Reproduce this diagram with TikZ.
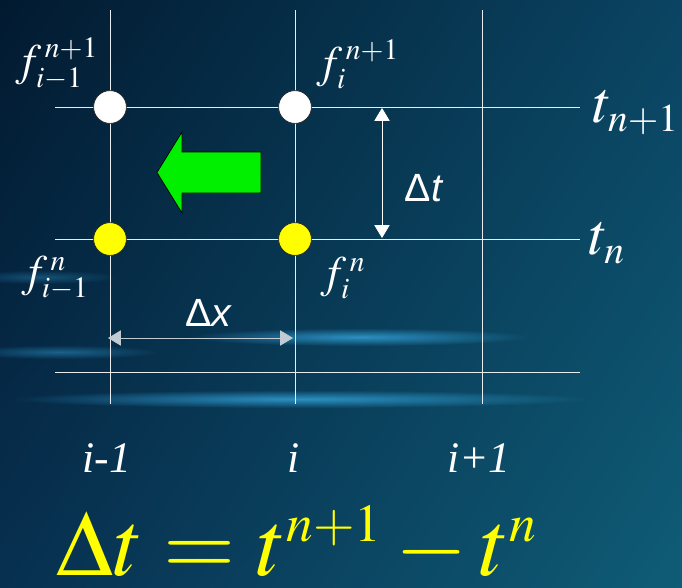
\documentclass[tikz,border=0pt]{standalone}
\usepackage{mathptmx}
\usepackage{fontspec}
\setmainfont{Liberation Serif}
\setsansfont{Liberation Sans}
\usepackage{tikz}
\usetikzlibrary{arrows.meta,positioning,shadings,fadings}
\DeclareMathSizes{66}{66}{38}{30}
\DeclareMathSizes{32}{32}{21}{16}
\DeclareMathSizes{42}{42}{28}{21}
\definecolor{BgNightA}{HTML}{021A30}
\definecolor{BgNightB}{HTML}{0A4462}
\definecolor{BgNightC}{HTML}{073050}
\definecolor{BgNightD}{HTML}{0F5C76}
\definecolor{BgGlow}{HTML}{3AB4F0}
\definecolor{MeshLine}{HTML}{E8ECEF}
\definecolor{StepGreen}{HTML}{00F000}
\definecolor{OldGold}{HTML}{FFFF00}
\tikzfading[name=glowfade, inner color=transparent!0, outer color=transparent!100]

\begin{document}
\begin{tikzpicture}[x=0.025cm,y=-0.025cm]
    \tikzset{
      mesh/.style={draw=MeshLine, line width=.6pt},
      streak/.style={fill=BgGlow, path fading=glowfade, opacity=.7},
      point/.style={circle, minimum size=8.2mm, inner sep=0pt, draw=black!85, line width=.5pt},
      newval/.style={point, fill=white},
      oldval/.style={point, fill=OldGold},
      flabel/.style={text=white, inner sep=0pt, font=\fontsize{32}{36}\selectfont},
      tlabel/.style={text=white, inner sep=0pt, font=\fontsize{42}{46}\selectfont},
      dlabel/.style={text=white, inner sep=0pt, font=\sffamily\fontsize{28}{32}\selectfont},
      ilabel/.style={text=white, inner sep=0pt, font=\itshape\fontsize{31}{34}\selectfont},
      span/.style={{Triangle[length=3.2mm,width=3.8mm]}-{Triangle[length=3.2mm,width=3.8mm]},
        draw=white, fill=white, line width=.6pt}
    }
    % background
    \shade[upper left=BgNightA, upper right=BgNightB, lower left=BgNightC, lower right=BgNightD]
      (0,0) rectangle (682,587);
    \useasboundingbox (0,0) rectangle (682,587);
    \path[streak] (360,337) ellipse (170 and 9);
    \path[streak] (300,399) ellipse (290 and 9);
    \path[streak, opacity=.4] (60,352) ellipse (100 and 7);
    \path[streak, opacity=.3] (40,277) ellipse (80 and 7);
    % mesh
    \foreach \x in {110,295,482}
      \draw[mesh] (\x,10) -- (\x,404);
    \foreach \y in {107,239,372}
      \draw[mesh] (55,\y) -- (580,\y);
    % unknowns and known values
    \node[newval] (fa1) at (110,107) {};
    \node[newval] (fb1) at (295,107) {};
    \node[oldval] (fa0) at (110,239) {};
    \node[oldval] (fb0) at (295,239) {};
    \node[flabel] (lfa1) at (57,64) {$f_{i-1}^{\,n+1}$};
    \node[flabel] (lfb1) at (358,64) {$f_{i}^{\,n+1}$};
    \node[flabel] (lfa0) at (55,278) {$f_{i-1}^{\,n}$};
    \node[flabel] (lfb0) at (343,278) {$f_{i}^{\,n}$};
    % marching direction
    \draw[fill=StepGreen, draw=black, line width=.5pt]
      (261,152) -- (182,152) -- (182,132) -- (157,172.5) -- (182,213) -- (182,193) -- (261,193) -- cycle;
    % time step
    \coordinate (dttop) at (382,108);
    \coordinate (dtbot) at (382,238);
    \draw[span] (dttop) -- (dtbot);
    \node[dlabel] (dtlab) at (424,188) {Δ\textit{t}};
    % space step
    \coordinate (dxl) at (108,338);
    \coordinate (dxr) at (293,338);
    \draw[span, draw=white!75!BgNightC] (dxl) -- (dxr);
    \node[dlabel] (dxlab) at (209,313) {Δ\textit{x}};
    % time levels
    \node[tlabel] (tn1) at (636,113) {$t_{n+1}$};
    \node[tlabel] (tn0) at (607,243) {$t_{n}$};
    % space indices
    \node[ilabel] (ia) at (107,458) {i-1};
    \node[ilabel] (ib) at (294,458) {i};
    \node[ilabel] (ic) at (479,458) {i+1};
    % definition
    \node[anchor=base, text=OldGold, inner sep=0pt, font=\fontsize{66}{70}\selectfont] (dteq)
      at (297,575) {$\Delta t = t^{n+1} - t^{n}$};
\end{tikzpicture}
\end{document}
